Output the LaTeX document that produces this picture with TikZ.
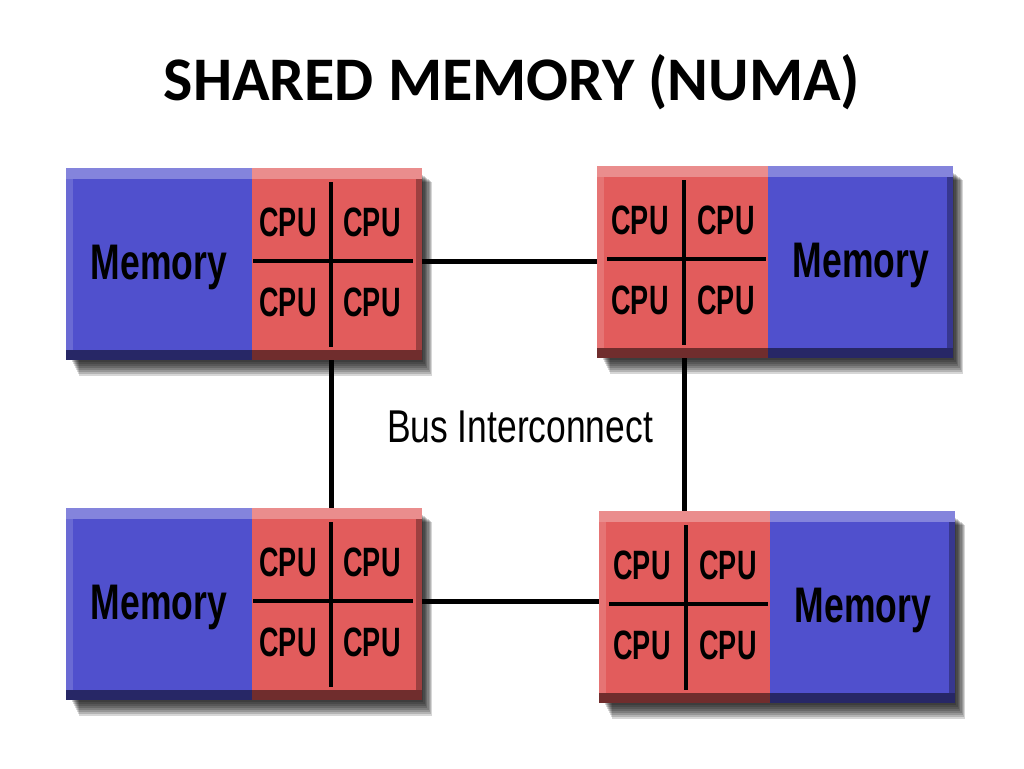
\documentclass[tikz,border=0pt]{standalone}
\usepackage{fontspec}
\setmainfont{Liberation Sans}
\newfontfamily\titlefont{Carlito}
\usetikzlibrary{calc}
\definecolor{memblue}{RGB}{80,80,205}
\definecolor{cpured}{RGB}{226,92,92}
\tikzset{
  memtext/.style={font=\fontsize{50}{50}\selectfont\bfseries, inner sep=0pt, anchor=base},
  cputext/.style={font=\fontsize{41}{41}\selectfont\bfseries, inner sep=0pt, anchor=base},
  bustext/.style={font=\fontsize{46}{46}\selectfont, inner sep=0pt, anchor=base},
  titletext/.style={font=\fontsize{62}{70}\selectfont\titlefont\bfseries, inner sep=0pt, anchor=base},
  bus/.style={line width=5pt, black},
  divider/.style={line width=4pt, black},
  memfill/.style={fill=memblue, draw=none, inner sep=0pt, anchor=north west, minimum height=192pt},
  cpufill/.style={fill=cpured, draw=none, inner sep=0pt, anchor=north west, minimum height=192pt},
}
\newcommand{\Mem}{\scalebox{0.71}[1]{Memory}}
\newcommand{\Cpu}{\scalebox{0.66}[1]{CPU}}
\newcommand{\blockshadow}[4]{%
  \foreach \d in {1,...,8}{\fill[black,opacity=0.16] ({#1+5+\d},{#2+6+\d}) rectangle ({#3+\d*1.3},{#4+\d*2});}%
}
\newcommand{\bevel}[4]{%
  \fill[white,opacity=0.3] ({#1},{#2}) rectangle ({#3},{#2+11});
  \fill[black,opacity=0.5] ({#1},{#4-10}) rectangle ({#3},{#4});
  \fill[white,opacity=0.15] ({#1},{#2+11}) rectangle ({#1+7},{#4-10});
  \fill[black,opacity=0.3] ({#3-6},{#2+11}) rectangle ({#3},{#4-10});
}
\newcommand{\leftblock}[3]{%
  \blockshadow{#2}{#3}{#2+356}{#3+192}
  \node[memfill, minimum width=186pt] (#1mem) at ({#2},{#3}) {};
  \node[cpufill, minimum width=170pt] (#1cpu) at ({#2+186},{#3}) {};
  \bevel{#2}{#3}{#2+356}{#3+192}
  \draw[divider] ({#2+265},{#3+14}) -- ({#2+265},{#3+179});
  \draw[divider] ({#2+187},{#3+93}) -- ({#2+347},{#3+93});
  \node[memtext] (#1memlabel) at ({#2+93},{#3+111}) {\Mem};
  \node[cputext] (#1ca) at ({#2+222},{#3+68}) {\Cpu};
  \node[cputext] (#1cb) at ({#2+306},{#3+68}) {\Cpu};
  \node[cputext] (#1cc) at ({#2+222},{#3+148}) {\Cpu};
  \node[cputext] (#1cd) at ({#2+306},{#3+148}) {\Cpu};
  \coordinate (#1top) at ({#2+265},{#3});
  \coordinate (#1bot) at ({#2+265},{#3+192});
  \coordinate (#1side) at ({#2+356},{#3+93});
}
\newcommand{\rightblock}[3]{%
  \blockshadow{#2}{#3}{#2+356}{#3+192}
  \node[cpufill, minimum width=171pt] (#1cpu) at ({#2},{#3}) {};
  \node[memfill, minimum width=185pt] (#1mem) at ({#2+171},{#3}) {};
  \bevel{#2}{#3}{#2+356}{#3+192}
  \draw[divider] ({#2+87},{#3+14}) -- ({#2+87},{#3+179});
  \draw[divider] ({#2+10},{#3+93}) -- ({#2+169},{#3+93});
  \node[memtext] (#1memlabel) at ({#2+264},{#3+111}) {\Mem};
  \node[cputext] (#1ca) at ({#2+43},{#3+68}) {\Cpu};
  \node[cputext] (#1cb) at ({#2+129},{#3+68}) {\Cpu};
  \node[cputext] (#1cc) at ({#2+43},{#3+148}) {\Cpu};
  \node[cputext] (#1cd) at ({#2+129},{#3+148}) {\Cpu};
  \coordinate (#1top) at ({#2+87},{#3});
  \coordinate (#1bot) at ({#2+87},{#3+192});
  \coordinate (#1side) at ({#2},{#3+93});
}
\begin{document}
\begin{tikzpicture}[x=1pt,y=-1pt]
  \useasboundingbox (0,0) rectangle (1024,768);
  \fill[white] (0,0) rectangle (1024,768);
  \node[titletext] (title) at (512,100) {SHARED MEMORY (NUMA)};
  \leftblock{tl}{66}{168}
  \rightblock{tr}{597}{166}
  \leftblock{bl}{66}{508}
  \rightblock{br}{599}{511}
  \draw[bus] (tlside) -- (tlside -| trside);
  \draw[bus] (blside) -- (blside -| brside);
  \draw[bus] (tlbot) -- (tlbot |- bltop);
  \draw[bus] (trbot) -- (trbot |- brtop);
  \node[bustext] (businter) at (520,442) {\scalebox{0.77}[1]{Bus Interconnect}};
\end{tikzpicture}
\end{document}
